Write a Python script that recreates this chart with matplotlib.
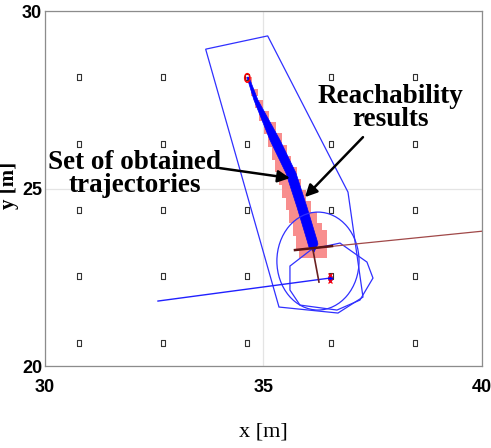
import numpy as np
import matplotlib
matplotlib.use('Agg')
import matplotlib.pyplot as plt
from matplotlib.patches import Ellipse, Polygon, Rectangle

# grid of landmark markers
grid_x = [30.78, 32.70, 34.62, 36.54, 38.47]
grid_y = [28.15, 26.25, 24.40, 22.54, 20.65]

# bundle of obtained trajectories (outline of the blue band)
band_left = [(34.622, 28.141), (34.783, 27.493), (35.149, 26.366), (35.515, 25.437),
             (35.767, 24.479), (35.995, 23.549), (36.041, 23.352), (36.156, 23.211)]
band_right = [(36.247, 23.437), (36.224, 23.549), (35.995, 24.479), (35.744, 25.437),
              (35.378, 26.366), (34.874, 27.493), (34.668, 28.141)]

# reachability boxes: centre x, centre y, half width (x), half height (y)
box_x = [34.67, 34.785, 34.904, 35.023, 35.144, 35.263, 35.359, 35.455,
         35.554, 35.65, 35.746, 35.842, 35.94, 36.037, 36.133]
box_y = [28.06, 27.72, 27.38, 27.04, 26.70, 26.37, 26.03, 25.69,
         25.35, 25.01, 24.68, 24.34, 24.00, 23.66, 23.44]
box_hw = [0.069, 0.080, 0.092, 0.114, 0.137, 0.160, 0.172, 0.183,
          0.206, 0.217, 0.229, 0.252, 0.275, 0.297, 0.320]
box_hh = [0.085, 0.099, 0.113, 0.141, 0.169, 0.197, 0.211, 0.225,
          0.254, 0.268, 0.282, 0.310, 0.338, 0.366, 0.394]

# outer region and local polygons
outer_poly = [(33.677, 28.930), (35.096, 29.304), (36.934, 24.901),
              (37.277, 21.944), (36.705, 21.493), (35.355, 21.662)]
local_poly = [(35.606, 22.817), (36.110, 23.296), (36.751, 23.465), (37.368, 22.930),
              (37.506, 22.479), (37.208, 21.859), (36.682, 21.577), (35.835, 21.718),
              (35.606, 22.141)]
circ_center = (36.247, 22.958)
circ_w, circ_h = 1.88, 2.76

start_pt = (34.63, 28.12)
goal_pt = (36.522, 22.479)
blue_line_x = [32.586, 36.522]
blue_line_y = [21.831, 22.479]
heading_x = [35.721, 40.2]
heading_y = [23.268, 23.824]
heading_dark_x = [35.721, 36.568]
heading_dark_y = [23.268, 23.380]
vert_x = [36.133, 36.27]
vert_y = [23.268, 22.366]

fig = plt.figure(figsize=(4.91, 4.48), dpi=100)
ax = fig.add_axes([0.0916, 0.183, 0.890, 0.792])

for cx, cy, hw, hh in zip(box_x, box_y, box_hw, box_hh):
    ax.add_patch(Rectangle((cx - hw, cy - hh), 2 * hw, 2 * hh,
                           facecolor='#f88e8e', edgecolor='none', zorder=2))
ax.add_patch(Polygon(band_left + band_right, closed=True, facecolor='#0000ff',
                     edgecolor='#0000ff', lw=0.5, zorder=3))

ax.add_patch(Polygon(outer_poly, closed=True, fill=False, edgecolor='#3030ff', lw=0.9, zorder=4))
ax.add_patch(Polygon(local_poly, closed=True, fill=False, edgecolor='#3030ff', lw=0.9, zorder=4))
ax.add_patch(Ellipse(circ_center, circ_w, circ_h, fill=False, edgecolor='#3030ff', lw=0.9, zorder=4))
ax.plot(blue_line_x, blue_line_y, color='#2020ff', lw=1.0, zorder=4)

ax.plot(heading_x, heading_y, color='#a04848', lw=0.9, zorder=5)
ax.plot(heading_dark_x, heading_dark_y, color='#5a1414', lw=1.8, zorder=5)
ax.plot(vert_x, vert_y, color='#6a2020', lw=1.2, zorder=5)

ax.add_patch(Ellipse(start_pt, 0.12, 0.24, fill=False, edgecolor='red', lw=1.1, zorder=6))
ax.plot(goal_pt[0], goal_pt[1], marker='d', color='blue', ms=4, zorder=6)
ax.plot([goal_pt[0]], [goal_pt[1] + 0.08], marker='x', color='red', ms=3, mew=0.9, zorder=6)
ax.plot([goal_pt[0]], [goal_pt[1] - 0.08], marker='x', color='red', ms=3, mew=0.9, zorder=6)

gx, gy = np.meshgrid(grid_x, grid_y)
rect_marker = [(-0.55, -1), (0.55, -1), (0.55, 1), (-0.55, 1), (-0.55, -1)]
ax.plot(gx.ravel(), gy.ravel(), linestyle='none', marker=rect_marker, ms=5,
        mfc='none', mec='#333333', mew=0.8, zorder=3)

serif = ['Liberation Serif', 'DejaVu Serif']
ax.text(32.06, 25.41, 'Set of obtained\ntrajectories', ha='center', va='center',
        fontsize=19.5, fontweight='bold', family=serif, linespacing=0.85, zorder=7)
ax.text(37.9, 27.27, 'Reachability\nresults', ha='center', va='center',
        fontsize=19.5, fontweight='bold', family=serif, linespacing=0.85, zorder=7)
arrow = dict(arrowstyle='-|>', color='black', lw=1.8, mutation_scale=18, shrinkA=0, shrinkB=0)
ax.annotate('', xy=(35.606, 25.296), xytext=(34.005, 25.577), arrowprops=arrow, zorder=7)
ax.annotate('', xy=(35.95, 24.76), xytext=(37.277, 26.45), arrowprops=arrow, zorder=7)

ax.set_xlim(30, 40)
ax.set_ylim(20, 30)
ax.set_xticks([30, 35, 40])
ax.set_yticks([20, 25, 30])
ax.grid(True, color='#e4e4e4', lw=0.9)
ax.set_axisbelow(True)
ax.tick_params(length=0)
ax.tick_params(axis='x', pad=9)
ax.tick_params(axis='y', pad=2)
sans = ['Liberation Sans', 'DejaVu Sans']
for lab in ax.get_xticklabels() + ax.get_yticklabels():
    lab.set_family(sans)
    lab.set_fontweight('bold')
    lab.set_fontsize(13)
for sp in ax.spines.values():
    sp.set_color('#8c8c8c')
    sp.set_linewidth(0.9)

ax.set_xlabel('x [m]', family=serif, fontsize=16)
ax.xaxis.set_label_coords(0.5, -0.186)
ax.xaxis.label.set_va('center')
ax.set_ylabel('y [m]', family=serif, fontsize=15, fontweight='bold')
ax.yaxis.set_label_coords(-0.082, 0.51)
ax.yaxis.label.set_va('center')

fig.savefig('out.png', dpi=100)
